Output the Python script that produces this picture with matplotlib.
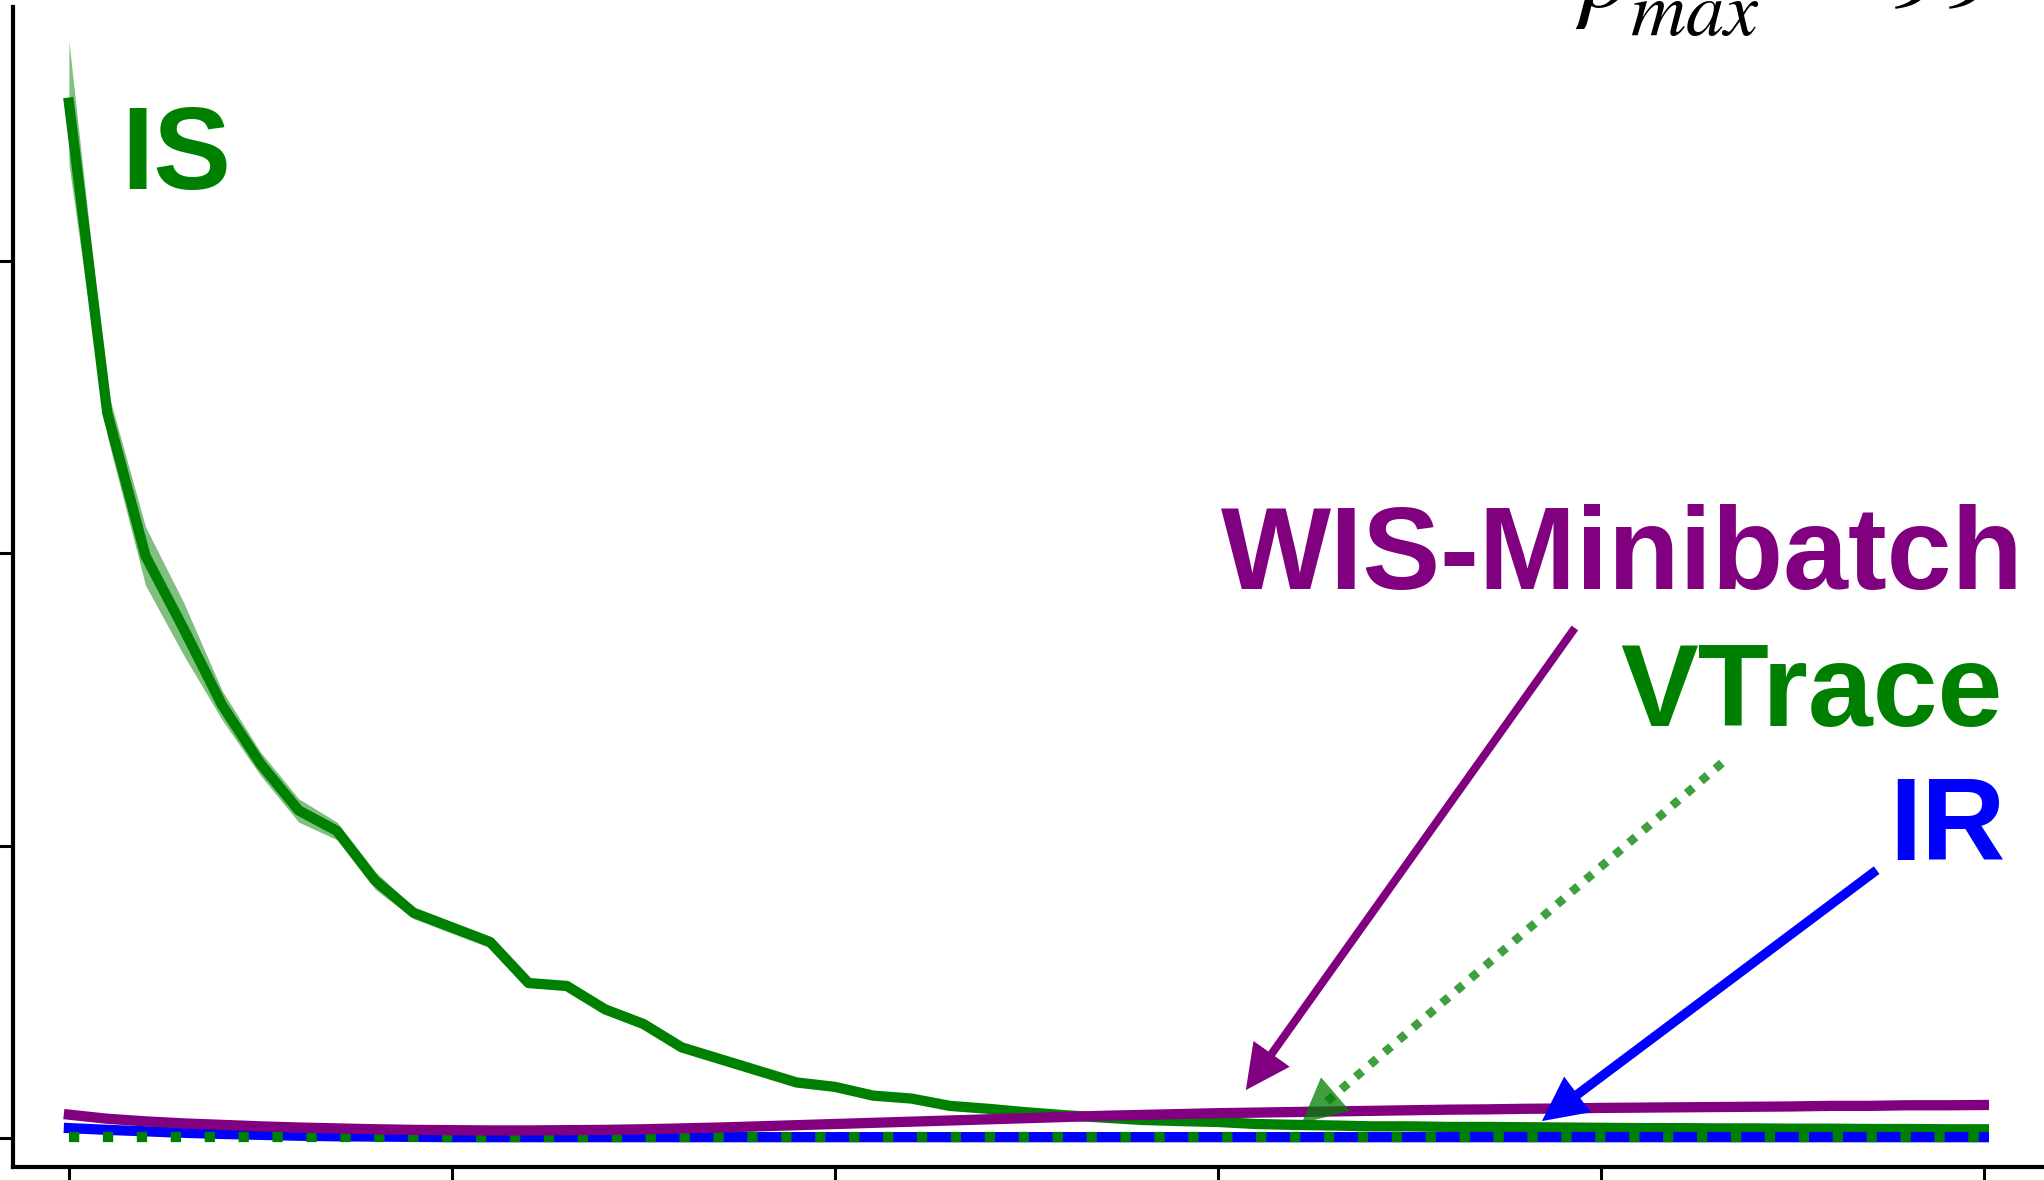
import numpy as np
import matplotlib
matplotlib.use("Agg")
import matplotlib.pyplot as plt

plt.rcParams['mathtext.fontset'] = 'stix'

# Iterations (x ticks every 10, labels cropped off in the reference)
steps = np.arange(0, 51)

# IS mean and half-width of the shaded band
is_mean = [3.54, 2.48, 1.99, 1.74, 1.48, 1.28, 1.12, 1.05, 0.88, 0.77,
           0.72, 0.67, 0.53, 0.52, 0.44, 0.39, 0.31, 0.27, 0.23, 0.19,
           0.175, 0.145, 0.135, 0.11, 0.10, 0.088, 0.078, 0.07, 0.062, 0.058,
           0.055, 0.048, 0.045, 0.043, 0.040, 0.040, 0.038, 0.038, 0.037, 0.036,
           0.035, 0.034, 0.034, 0.033, 0.033, 0.032, 0.032, 0.031, 0.031, 0.030,
           0.030]
is_err = [0.21, 0.08, 0.10, 0.09, 0.05, 0.04, 0.04, 0.03, 0.03, 0.02,
          0.02, 0.02, 0.015, 0.015, 0.012, 0.01, 0.01, 0.01, 0.008, 0.008,
          0.006, 0.006, 0.005, 0.005, 0.005, 0.004, 0.004, 0.004, 0.004, 0.004,
          0.003, 0.003, 0.003, 0.003, 0.003, 0.003, 0.003, 0.003, 0.003, 0.003,
          0.003, 0.003, 0.003, 0.003, 0.003, 0.003, 0.003, 0.003, 0.003, 0.003,
          0.003]

# WIS-Minibatch
wis = [0.080, 0.066, 0.057, 0.050, 0.045, 0.040, 0.036, 0.033, 0.030, 0.028,
       0.027, 0.026, 0.026, 0.027, 0.028, 0.030, 0.033, 0.036, 0.040, 0.044,
       0.048, 0.052, 0.056, 0.060, 0.064, 0.068, 0.072, 0.076, 0.079, 0.082,
       0.085, 0.087, 0.089, 0.091, 0.093, 0.095, 0.097, 0.098, 0.100, 0.101,
       0.103, 0.104, 0.105, 0.106, 0.107, 0.108, 0.110, 0.110, 0.112, 0.112,
       0.113]

# IR
ir = [0.034, 0.028, 0.023, 0.018, 0.014, 0.011, 0.008, 0.006, 0.005, 0.004,
      0.003, 0.003, 0.003, 0.003, 0.003, 0.003, 0.003, 0.003, 0.003, 0.003,
      0.003, 0.003, 0.003, 0.003, 0.003, 0.003, 0.003, 0.003, 0.003, 0.003,
      0.003, 0.003, 0.003, 0.003, 0.003, 0.003, 0.003, 0.003, 0.003, 0.003,
      0.003, 0.003, 0.003, 0.003, 0.003, 0.003, 0.003, 0.003, 0.003, 0.003,
      0.003]

# VTrace
vtrace = [0.003] * 51

# Labels: (text, colour, x, y) and arrows: (tail, tip, colour, style, alpha, width)
labels = [('IS', 'green', 1.36, 3.245),
          ('WIS-Minibatch', 'purple', 30.08, 1.877),
          ('VTrace', 'green', 40.5, 1.409),
          ('IR', 'blue', 47.52, 0.950)]
arrows = [((39.32, 1.744), (30.73, 0.164), 'purple', '-', 1.0, 5.8),
          ((43.16, 1.282), (32.19, 0.051), 'green', (0, (1, 1.2)), 0.75, 6.2),
          ((47.2, 0.916), (38.46, 0.058), 'blue', '-', 1.0, 6.8)]

is_mean = np.array(is_mean)
is_err = np.array(is_err)

fig = plt.figure(figsize=(20.44, 11.8), dpi=100)
ax = fig.add_axes([13 / 2044, 13 / 1180, 1 - 13 / 2044, 1160 / 1180])

lw = 7.4
ax.fill_between(steps, is_mean - is_err, is_mean + is_err, color='green',
                alpha=0.5, lw=0)
ax.plot(steps, is_mean, color='green', lw=lw)
ax.plot(steps, ir, color='blue', lw=lw)
ax.plot(steps, vtrace, color='green', lw=lw, linestyle=(0, (1, 2.3)))
ax.plot(steps, wis, color='purple', lw=lw)

for text, col, x, y in labels:
    ax.text(x, y, text, color=col, fontsize=84, fontweight='bold',
            family='Liberation Sans', va='baseline', ha='left')

for tail, tip, col, ls, alpha, w in arrows:
    # shaft, stopping inside the head
    ax.annotate('', xy=tip, xytext=tail,
                arrowprops=dict(arrowstyle='-', color=col, lw=w, linestyle=ls,
                                alpha=alpha, shrinkA=0, shrinkB=20,
                                capstyle='butt'))
    # solid filled head
    ax.annotate('', xy=tip, xytext=tail,
                arrowprops=dict(arrowstyle='-|>,head_length=3.2,head_width=1.6',
                                color=col, lw=0, alpha=alpha,
                                shrinkA=0, shrinkB=0, mutation_scale=10))

# rho_max = 99, mostly cut off at the top edge
fig.text(1575 / 2044, 1 - 7 / 1180, r'$\rho$', fontsize=78,
         va='baseline', ha='left')
fig.text(1630 / 2044, 1 - 35 / 1180, r'$max$', fontsize=55,
         va='baseline', ha='left')
fig.text(1790 / 2044, 1 - 7 / 1180, r'$=$', fontsize=78,
         va='baseline', ha='left')
fig.text(1888 / 2044, 1 - 7 / 1180, r'$99$', fontsize=78,
         va='baseline', ha='left')

ax.set_xlim(-1.46, 51.57)
ax.set_ylim(-0.099, 3.867)
ax.set_xticks([0, 10, 20, 30, 40, 50])
ax.set_yticks([0, 1, 2, 3])
ax.set_xticklabels([])
ax.set_yticklabels([])
ax.tick_params(direction='out', length=10, width=2.2)
for side in ['top', 'right']:
    ax.spines[side].set_visible(False)
for side in ['left', 'bottom']:
    ax.spines[side].set_linewidth(3.0)

fig.savefig('out.png', dpi=100)
